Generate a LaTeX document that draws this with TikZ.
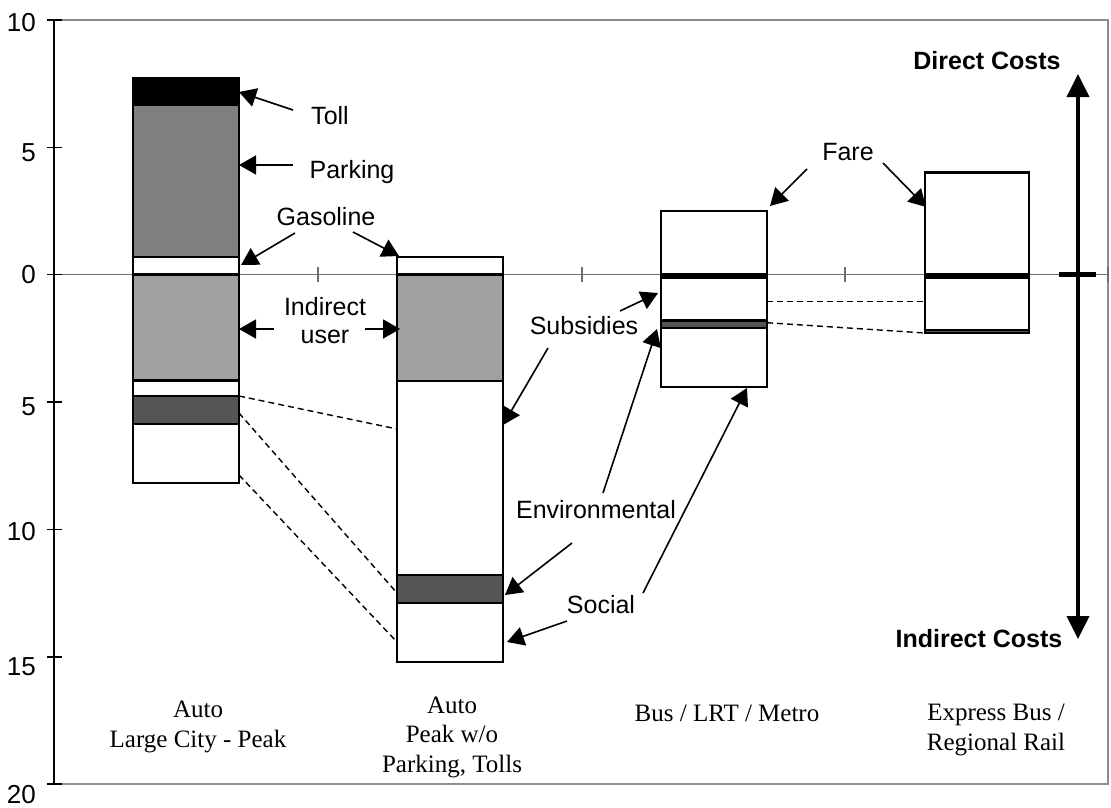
\documentclass[tikz,border=0pt]{standalone}
\usepackage{fontspec}
\setmainfont{Liberation Serif}
\newfontfamily\arial{Liberation Sans}
\usetikzlibrary{arrows.meta}
\definecolor{parkgray}{HTML}{808080}
\definecolor{indgray}{HTML}{A0A0A0}
\definecolor{envgray}{HTML}{555555}
\definecolor{framegray}{HTML}{8C8C8C}
\definecolor{axisgray}{HTML}{6E6E6E}
\begin{document}
\begin{tikzpicture}[x=1pt,y=-1pt,
  lbl/.style={font=\arial\fontsize{25}{28}\selectfont, inner sep=0pt, anchor=base},
  lblb/.style={font=\arial\bfseries\fontsize{25}{28}\selectfont, inner sep=0pt, anchor=base},
  cat/.style={font=\fontsize{25}{29.5}\selectfont, inner sep=0pt, align=center, anchor=base},
  ticklbl/.style={font=\arial\fontsize{26}{28}\selectfont, inner sep=0pt, anchor=base east},
  seg/.style={draw=black, line width=2.6pt},
  arr/.style={line width=1.6pt, -{Triangle[length=17pt,width=19pt]}},
  link/.style={line width=1.4pt, dash pattern=on 6pt off 4pt},
  bigarr/.style={line width=3.8pt, {Triangle[length=23pt,width=22pt]}-{Triangle[length=23pt,width=22pt]}}
]
\useasboundingbox (0,0) rectangle (1111,807);

% plot frame and axes
\draw[framegray, line width=2pt] (54,20) -- (1108,20) -- (1108,784) -- (54,784);
\draw[axisgray, line width=1.3pt] (54,274.7) -- (1108,274.7);
\foreach \x in {318,582,845,1108}
  \draw[axisgray, line width=1.3pt] (\x,267) -- (\x,282);
\draw[black, line width=2pt] (54,20) -- (54,784);
\foreach \y in {20,147.3,274.7,402,529.5,657,784}
  \draw[black, line width=1.3pt] (47,\y) -- (62,\y);

% tick labels
\node[ticklbl] (yl1) at (36,31) {10};
\node[ticklbl] (yl2) at (36,161) {5};
\node[ticklbl] (yl3) at (36,283) {0};
\node[ticklbl] (yl4) at (36,415) {5};
\node[ticklbl] (yl5) at (36,540) {10};
\node[ticklbl] (yl6) at (36,675) {15};
\node[ticklbl] (yl7) at (36,803) {20};

% Auto, large city, peak
\draw[seg, fill=black]    (133,78)    rectangle (239,105);
\draw[seg, fill=parkgray] (133,105)   rectangle (239,257);
\draw[seg, fill=white]    (133,257)   rectangle (239,274.7);
\draw[seg, fill=indgray]  (133,274.7) rectangle (239,380.7);
\draw[seg, fill=white]    (133,380.7) rectangle (239,396);
\draw[seg, fill=envgray]  (133,396)   rectangle (239,424);
\draw[seg, fill=white]    (133,424)   rectangle (239,483);

% Auto, peak without parking and tolls
\draw[seg, fill=white]    (397,257)   rectangle (503,274.7);
\draw[seg, fill=indgray]  (397,274.7) rectangle (503,381);
\draw[seg, fill=white]    (397,381)   rectangle (503,575);
\draw[seg, fill=envgray]  (397,575)   rectangle (503,603);
\draw[seg, fill=white]    (397,603)   rectangle (503,662);

% Bus / LRT / Metro
\draw[seg, fill=white]    (661,211)   rectangle (767,274.7);
\draw[seg, fill=black]    (661,274.7) rectangle (767,278);
\draw[seg, fill=white]    (661,278)   rectangle (767,320.7);
\draw[seg, fill=envgray]  (661,320.7) rectangle (767,328);
\draw[seg, fill=white]    (661,328)   rectangle (767,387);

% Express bus / regional rail
\draw[seg, fill=white]    (925,172.7) rectangle (1029,274.7);
\draw[seg, fill=black]    (925,274.7) rectangle (1029,278);
\draw[seg, fill=white]    (925,278)   rectangle (1029,330);
\draw[seg, fill=envgray]  (925,330)   rectangle (1029,333);

% dashed links between bars
\foreach \n/\ax/\ay/\bx/\by in {1/239/396/397/429, 2/239/413/397/593, 3/239/475/397/642,
                                 4/767/301.7/925/301.7, 5/767/322.7/925/333} {
  \coordinate (ls\n) at (\ax,\ay);
  \coordinate (le\n) at (\bx,\by);
  \draw[link] (ls\n) -- (le\n);
}

% component labels
\node[lbl] (toll) at (330,124) {Toll};
\node[lbl] (parking) at (352,178) {Parking};
\node[lbl] (gasoline) at (326,225) {Gasoline};
\node[lbl, align=center] (indirect) at (325,343) {Indirect\\user};
\node[lbl] (subsidies) at (584,334) {Subsidies};
\node[lbl] (environmental) at (596,518) {Environmental};
\node[lbl] (social) at (601,613) {Social};
\node[lbl] (fare) at (848,160) {Fare};

% label arrows
\foreach \n/\ax/\ay/\bx/\by in {1/293/110/239/92, 2/293/165/239/165, 3/295/233/241/265,
                                 4/353/232/399/256, 5/274/329/239/329, 6/365/329/400/329,
                                 7/548/348/503/425, 8/620/311/658/293, 9/603/493/657/329,
                                 10/572/543/505/595, 11/643/593/747/388, 12/567/621/507/642,
                                 13/807/169/770/206, 14/883/163/926/207} {
  \coordinate (at\n) at (\ax,\ay);
  \coordinate (ah\n) at (\bx,\by);
  \draw[arr] (at\n) -- (ah\n);
}

% direct / indirect cost scale
\coordinate (dtop) at (1078,74);
\coordinate (dbot) at (1078,639);
\draw[bigarr] (dtop) -- (dbot);
\coordinate (czl) at (1059,274.7);
\coordinate (czr) at (1096,274.7);
\draw[line width=5pt] (czl) -- (czr);
\node[lblb] (direct) at (987,69) {Direct Costs};
\node[lblb] (indirectc) at (979,647) {Indirect Costs};

% category labels
\node[cat] (cat1) at (198,747) {Auto\\Large City - Peak};
\node[cat] (cat2) at (452,772) {Auto\\Peak w/o\\Parking, Tolls};
\node[cat] (cat3) at (727,721) {Bus / LRT / Metro};
\node[cat] (cat4) at (996,750) {Express Bus /\\Regional Rail};
\end{tikzpicture}
\end{document}
